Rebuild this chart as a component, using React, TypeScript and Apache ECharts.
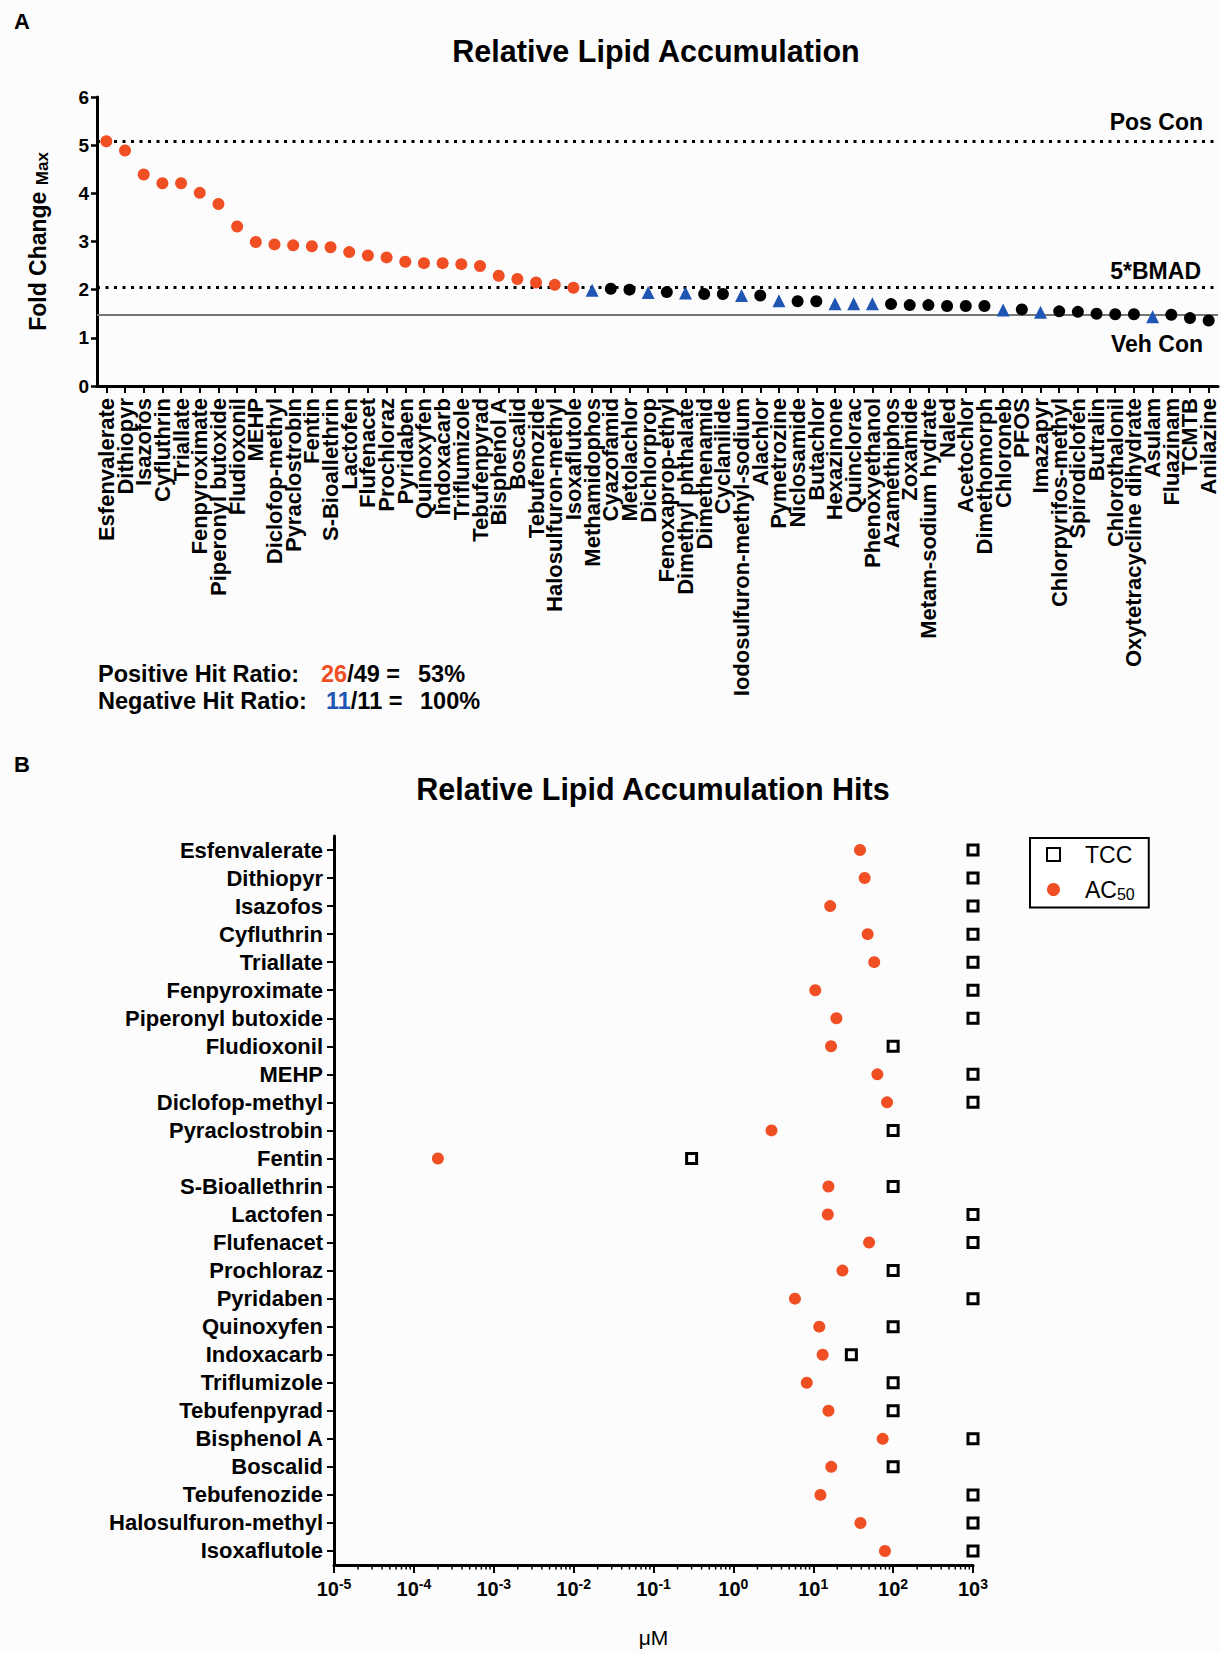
import React, { useEffect, useRef } from 'react';
import * as echarts from 'echarts';

const FONT = '"Liberation Sans", Arial, Helvetica, sans-serif';
const ORANGE = '#f04e23';
const BLUE = '#1f56b4';

// ---------- Panel A data ----------
const compoundsA = [
  'Esfenvalerate', 'Dithiopyr', 'Isazofos', 'Cyfluthrin', 'Triallate', 'Fenpyroximate',
  'Piperonyl butoxide', 'Fludioxonil', 'MEHP', 'Diclofop-methyl', 'Pyraclostrobin', 'Fentin',
  'S-Bioallethrin', 'Lactofen', 'Flufenacet', 'Prochloraz', 'Pyridaben', 'Quinoxyfen',
  'Indoxacarb', 'Triflumizole', 'Tebufenpyrad', 'Bisphenol A', 'Boscalid', 'Tebufenozide',
  'Halosulfuron-methyl', 'Isoxaflutole', 'Methamidophos', 'Cyazofamid', 'Metolachlor',
  'Dichlorprop', 'Fenoxaprop-ethyl', 'Dimethyl phthalate', 'Dimethenamid', 'Cyclanilide',
  'Iodosulfuron-methyl-sodium', 'Alachlor', 'Pymetrozine', 'Niclosamide', 'Butachlor',
  'Hexazinone', 'Quinclorac', 'Phenoxyethanol', 'Azamethiphos', 'Zoxamide',
  'Metam-sodium hydrate', 'Naled', 'Acetochlor', 'Dimethomorph', 'Chloroneb', 'PFOS',
  'Imazapyr', 'Chlorpyrifos-methyl', 'Spirodiclofen', 'Butralin', 'Chlorothalonil',
  'Oxytetracycline dihydrate', 'Asulam', 'Fluazinam', 'TCMTB', 'Anilazine',
];

const foldChangeMax = [
  5.08, 4.89, 4.39, 4.21, 4.21, 4.01, 3.78, 3.31, 2.99, 2.94,
  2.92, 2.90, 2.88, 2.78, 2.71, 2.67, 2.58, 2.55, 2.55, 2.53,
  2.49, 2.29, 2.22, 2.15, 2.10, 2.04, 1.99, 2.02, 2.00, 1.94,
  1.95, 1.93, 1.91, 1.91, 1.88, 1.88, 1.77, 1.76, 1.76, 1.71,
  1.71, 1.71, 1.70, 1.68, 1.68, 1.66, 1.66, 1.66, 1.58, 1.59,
  1.53, 1.55, 1.54, 1.50, 1.49, 1.49, 1.44, 1.48, 1.41, 1.36,
];

// 'hit' = active positive (orange), 'inactive' = positive not hit (black), 'negative' = negative reference (blue)
const compoundClass = [
  'hit', 'hit', 'hit', 'hit', 'hit', 'hit', 'hit', 'hit', 'hit', 'hit',
  'hit', 'hit', 'hit', 'hit', 'hit', 'hit', 'hit', 'hit', 'hit', 'hit',
  'hit', 'hit', 'hit', 'hit', 'hit', 'hit', 'negative', 'inactive', 'inactive', 'negative',
  'inactive', 'negative', 'inactive', 'inactive', 'negative', 'inactive', 'negative', 'inactive', 'inactive', 'negative',
  'negative', 'negative', 'inactive', 'inactive', 'inactive', 'inactive', 'inactive', 'inactive', 'negative', 'inactive',
  'negative', 'inactive', 'inactive', 'inactive', 'inactive', 'inactive', 'negative', 'inactive', 'inactive', 'inactive',
];

const posConLevel = 5.08;
const bmadLevel = 2.05;
const vehConLevel = 1.48;
const yTicksA = [0, 1, 2, 3, 4, 5, 6];

// ---------- Panel B data ----------
const hitCompounds = [
  'Esfenvalerate', 'Dithiopyr', 'Isazofos', 'Cyfluthrin', 'Triallate', 'Fenpyroximate',
  'Piperonyl butoxide', 'Fludioxonil', 'MEHP', 'Diclofop-methyl', 'Pyraclostrobin', 'Fentin',
  'S-Bioallethrin', 'Lactofen', 'Flufenacet', 'Prochloraz', 'Pyridaben', 'Quinoxyfen',
  'Indoxacarb', 'Triflumizole', 'Tebufenpyrad', 'Bisphenol A', 'Boscalid', 'Tebufenozide',
  'Halosulfuron-methyl', 'Isoxaflutole',
];
const tccValues = [
  1000, 1000, 1000, 1000, 1000, 1000, 1000, 100, 1000, 1000,
  100, 0.3, 100, 1000, 1000, 100, 1000, 100, 30, 100,
  100, 1000, 100, 1000, 1000, 1000,
];
const ac50Values = [
  38.5, 44, 16.3, 48, 58, 10.6, 19.5, 16.7, 63.5, 84,
  3.0, 0.0002, 15.5, 15.2, 50, 23.2, 5.9, 11.9, 13.1, 8.3,
  15.5, 74, 16.8, 12.3, 39, 79,
];
const logMinB = 1e-5;
const logMaxB = 1e3;
const minorMultipliers = [2, 3, 4, 5, 6, 7, 8, 9];
const decadeExponents = [-5, -4, -3, -2, -1, 0, 1, 2];

export default function App() {
  const ref = useRef<HTMLDivElement>(null);

  useEffect(() => {
    document.body.style.margin = '0';
    const chart = echarts.init(ref.current!, null, { renderer: 'svg' });

    const seriesData = (cls: string) =>
      foldChangeMax.map((v, i) => (compoundClass[i] === cls ? v : '-'));

    const minorTicks: number[][] = [];
    decadeExponents.forEach((e) =>
      minorMultipliers.forEach((m) => minorTicks.push([m * Math.pow(10, e), 0]))
    );

    const txt = (
      text: string,
      x: number,
      y: number,
      size: number,
      opts: Record<string, any> = {}
    ) => ({
      type: 'text',
      x,
      y,
      silent: true,
      style: {
        text,
        fontSize: size,
        fontWeight: 'bold',
        fontFamily: FONT,
        fill: '#000',
        textAlign: 'left',
        textVerticalAlign: 'middle',
        ...opts,
      },
    });

    const option: any = {
      animation: false,
      backgroundColor: '#fcfcfc',
      textStyle: { fontFamily: FONT },
      grid: [
        { left: 97, top: 97, width: 1121, height: 289 },
        { left: 334, top: 836, width: 639, height: 729 },
      ],
      xAxis: [
        {
          type: 'category',
          gridIndex: 0,
          data: compoundsA,
          boundaryGap: true,
          axisLine: { show: true, lineStyle: { color: '#000', width: 3 } },
          axisTick: { show: true, alignWithLabel: true, interval: 0, length: 7, lineStyle: { color: '#000', width: 2 } },
          axisLabel: {
            interval: 0,
            rotate: 90,
            margin: 12,
            color: '#000',
            fontSize: 22,
            fontWeight: 'bold',
            fontFamily: FONT,
          },
          splitLine: { show: false },
        },
        {
          type: 'log',
          gridIndex: 1,
          logBase: 10,
          min: logMinB,
          max: logMaxB,
          name: 'μM',
          nameLocation: 'middle',
          nameGap: 62,
          nameTextStyle: { color: '#000', fontSize: 21, fontFamily: FONT },
          axisLine: { show: true, onZero: false, lineStyle: { color: '#000', width: 3 } },
          axisTick: { show: true, length: 8, lineStyle: { color: '#000', width: 2 } },
          axisLabel: {
            margin: 12,
            color: '#000',
            formatter: (v: number) => `{b|10}{s|${Math.round(Math.log10(v))}}`,
            rich: {
              b: { fontSize: 20, fontWeight: 'bold', fontFamily: FONT, color: '#000', lineHeight: 23 },
              s: { fontSize: 14, fontWeight: 'bold', fontFamily: FONT, color: '#000', lineHeight: 12, verticalAlign: 'top' },
            },
          },
          splitLine: { show: false },
          minorTick: { show: false },
        },
      ],
      yAxis: [
        {
          type: 'value',
          gridIndex: 0,
          min: yTicksA[0],
          max: yTicksA[yTicksA.length - 1],
          interval: 1,
          name: '{a|Fold Change }{b|Max}',
          nameLocation: 'middle',
          nameRotate: 90,
          nameGap: 46,
          nameTextStyle: {
            rich: {
              a: { fontSize: 23, fontWeight: 'bold', fontFamily: FONT, color: '#000', lineHeight: 27 },
              b: { fontSize: 17, fontWeight: 'bold', fontFamily: FONT, color: '#000', lineHeight: 16, verticalAlign: 'bottom' },
            },
          },
          axisLine: { show: true, lineStyle: { color: '#000', width: 3 } },
          axisTick: { show: true, length: 6, lineStyle: { color: '#000', width: 2.5 } },
          axisLabel: { margin: 8, color: '#000', fontSize: 19, fontWeight: 'bold', fontFamily: FONT },
          splitLine: { show: false },
        },
        {
          type: 'category',
          gridIndex: 1,
          data: hitCompounds,
          inverse: true,
          boundaryGap: true,
          axisLine: { show: true, lineStyle: { color: '#000', width: 3 } },
          axisTick: { show: true, alignWithLabel: true, interval: 0, length: 7, lineStyle: { color: '#000', width: 2 } },
          axisLabel: { interval: 0, margin: 11, color: '#000', fontSize: 22, fontWeight: 'bold', fontFamily: FONT },
          splitLine: { show: false },
        },
      ],
      legend: {
        data: ['TCC', 'AC50'],
        orient: 'vertical',
        left: 1030,
        top: 838,
        padding: [5, 14, 5, 16],
        itemGap: 12,
        itemWidth: 13,
        itemHeight: 13,
        borderColor: '#000',
        borderWidth: 2,
        borderRadius: 0,
        backgroundColor: '#fff',
        selectedMode: false,
        formatter: (n: string) => (n === 'AC50' ? '{g| }{t|AC}{s|50}' : '{g| }{t|TCC}'),
        textStyle: {
          rich: {
            g: { width: 20 },
            t: { fontSize: 23, fontFamily: FONT, color: '#000', lineHeight: 26 },
            s: { fontSize: 16, fontFamily: FONT, color: '#000', lineHeight: 10, verticalAlign: 'bottom' },
          },
        },
      },
      series: [
        {
          name: 'refLines',
          type: 'line',
          xAxisIndex: 0,
          yAxisIndex: 0,
          data: [],
          z: 1,
          silent: true,
          markLine: {
            silent: true,
            symbol: ['none', 'none'],
            animation: false,
            data: [
              {
                yAxis: posConLevel,
                lineStyle: { color: '#000', width: 3, type: [3, 5.5] },
                label: { formatter: 'Pos Con', position: 'insideEndTop', distance: [15, 8] },
              },
              {
                yAxis: bmadLevel,
                lineStyle: { color: '#000', width: 3, type: [3, 5.5] },
                label: { formatter: '5*BMAD', position: 'insideEndTop', distance: [17, 5] },
              },
              {
                yAxis: vehConLevel,
                lineStyle: { color: '#777', width: 2, type: 'solid' },
                label: { formatter: 'Veh Con', position: 'insideEndBottom', distance: [15, 18] },
              },
            ],
            label: { color: '#000', fontSize: 23, fontWeight: 'bold', fontFamily: FONT },
          },
        },
        {
          name: 'Hit',
          type: 'scatter',
          xAxisIndex: 0,
          yAxisIndex: 0,
          data: seriesData('hit'),
          symbol: 'circle',
          symbolSize: 12,
          itemStyle: { color: ORANGE, opacity: 1 },
          z: 5,
        },
        {
          name: 'Inactive',
          type: 'scatter',
          xAxisIndex: 0,
          yAxisIndex: 0,
          data: seriesData('inactive'),
          symbol: 'circle',
          symbolSize: 12,
          itemStyle: { color: '#000', opacity: 1 },
          z: 5,
        },
        {
          name: 'Negative',
          type: 'scatter',
          xAxisIndex: 0,
          yAxisIndex: 0,
          data: seriesData('negative'),
          symbol: 'triangle',
          symbolSize: 13,
          itemStyle: { color: BLUE, opacity: 1 },
          z: 5,
        },
        {
          name: 'minorTicks',
          type: 'custom',
          xAxisIndex: 1,
          yAxisIndex: 1,
          silent: true,
          clip: false,
          data: minorTicks,
          renderItem: (params: any, api: any) => {
            const x = api.coord([api.value(0), 0])[0];
            const cs = params.coordSys;
            const y = cs.y + cs.height;
            return {
              type: 'line',
              shape: { x1: x, y1: y, x2: x, y2: y + 4.5 },
              style: { stroke: '#000', lineWidth: 1.5 },
            };
          },
        },
        {
          name: 'TCC',
          type: 'scatter',
          xAxisIndex: 1,
          yAxisIndex: 1,
          clip: false,
          data: tccValues.map((v, i) => [v, hitCompounds[i]]),
          symbol: 'rect',
          symbolSize: 10,
          itemStyle: { color: '#fff', borderColor: '#000', borderWidth: 3, opacity: 1 },
          z: 5,
        },
        {
          name: 'AC50',
          type: 'scatter',
          xAxisIndex: 1,
          yAxisIndex: 1,
          clip: false,
          data: ac50Values.map((v, i) => [v, hitCompounds[i]]),
          symbol: 'circle',
          symbolSize: 12,
          itemStyle: { color: ORANGE, opacity: 1 },
          z: 5,
        },
      ],
      graphic: [
        txt('A', 14, 21, 22),
        txt('Relative Lipid Accumulation', 656, 51, 30.5, { textAlign: 'center' }),
        txt('Positive Hit Ratio:', 98, 674, 23.5),
        txt('{o|26}{k|/49 =}', 321, 674, 23.5, {
          rich: {
            o: { fill: ORANGE, fontSize: 23.5, fontWeight: 'bold', fontFamily: FONT },
            k: { fill: '#000', fontSize: 23.5, fontWeight: 'bold', fontFamily: FONT },
          },
        }),
        txt('53%', 418, 674, 23.5),
        txt('Negative Hit Ratio:', 98, 701, 23.5),
        txt('{o|11}{k|/11 =}', 326, 701, 23.5, {
          rich: {
            o: { fill: BLUE, fontSize: 23.5, fontWeight: 'bold', fontFamily: FONT },
            k: { fill: '#000', fontSize: 23.5, fontWeight: 'bold', fontFamily: FONT },
          },
        }),
        txt('100%', 420, 701, 23.5),
        txt('B', 14, 764, 22),
        txt('Relative Lipid Accumulation Hits', 653, 789, 30.5, { textAlign: 'center' }),
      ],
    };

    chart.setOption(option);
    return () => chart.dispose();
  }, []);

  return <div ref={ref} style={{ width: 1221, height: 1653 }} />;
}
